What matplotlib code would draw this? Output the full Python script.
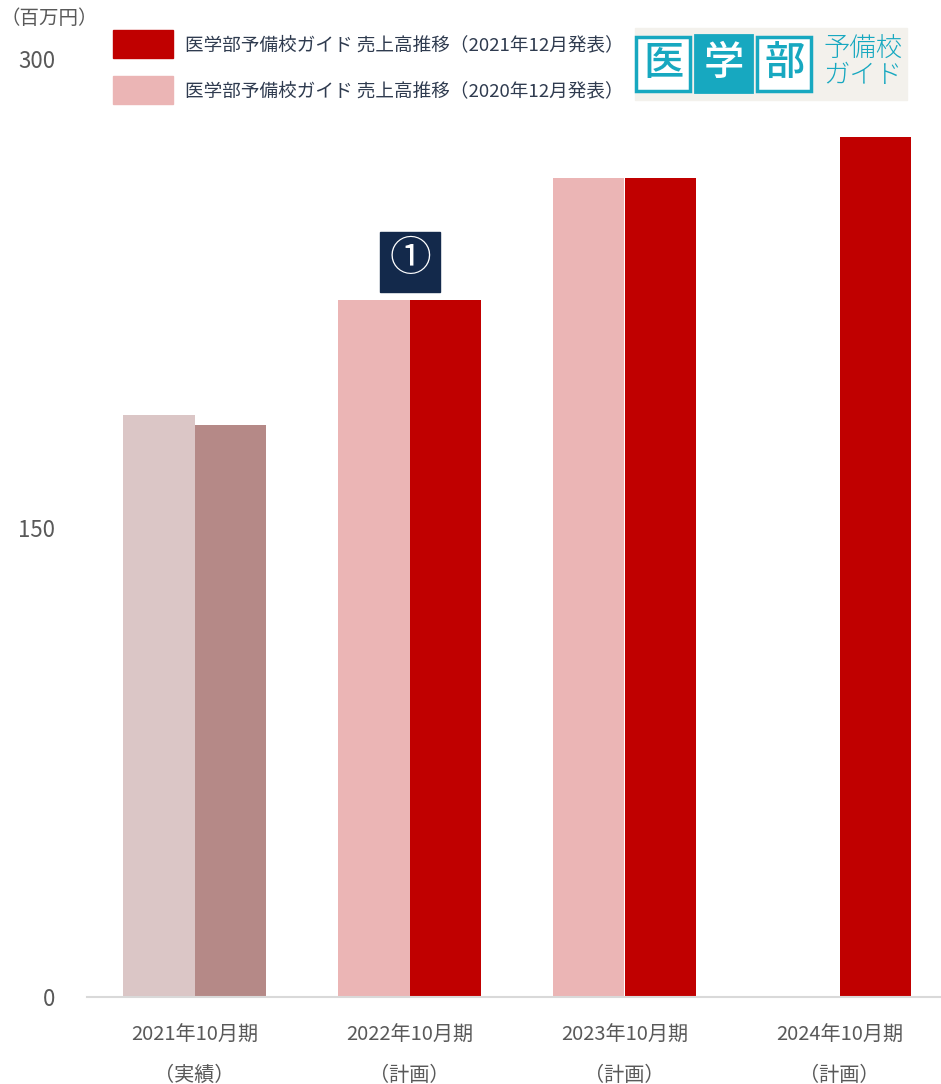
import numpy as np
import matplotlib.pyplot as plt
from matplotlib.patches import Patch, Rectangle

plt.rcParams['font.family'] = ['Noto Sans CJK JP', 'DejaVu Sans']

# data (百万円)
periods = ['2021年10月期', '2022年10月期', '2023年10月期', '2024年10月期']
notes = ['（実績）', '（計画）', '（計画）', '（計画）']
sales_2020 = [186, 223, 262]        # 2020年12月発表
sales_2021 = [183, 223, 262, 275]   # 2021年12月発表
colors_2020 = ['#DBC6C6', '#EBB5B5', '#EBB5B5']
colors_2021 = ['#B58987', '#C00000', '#C00000', '#C00000']
label_2021 = '医学部予備校ガイド 売上高推移（2021年12月発表）'
label_2020 = '医学部予備校ガイド 売上高推移（2020年12月発表）'

W, H = 941, 1084
fig = plt.figure(figsize=(W / 100, H / 100), dpi=100)
ax = fig.add_axes([87 / W, 1 - 997 / H, 1 - 87 / W, (997 - 59) / H])

w = 1 / 3
x = np.arange(len(periods))
ax.bar(x[:len(sales_2020)] - w / 2, sales_2020, width=w, color=colors_2020)
ax.bar(x + w / 2, sales_2021, width=w, color=colors_2021)

ax.set_xlim(-0.5, (W - 87) / 215 - 0.5)
ax.set_ylim(0, 300)
for s in ['top', 'right', 'left']:
    ax.spines[s].set_visible(False)
ax.spines['bottom'].set_color('#D9D9D9')
ax.spines['bottom'].set_linewidth(1.5)

ax.set_yticks([0, 150, 300])
ax.set_yticklabels(['0', '150', '300'], fontsize=16, color='#595959')
ax.tick_params(axis='y', length=0, pad=23)

ax.set_xticks(x)
ax.set_xticklabels([p + '\n' + n for p, n in zip(periods, notes)],
                   fontsize=14.5, color='#595959', linespacing=2.2)
ax.tick_params(axis='x', length=0, pad=20)

handles = [Patch(color='#C00000', label=label_2021),
           Patch(color='#EBB5B5', label=label_2020)]
fig.legend(handles=handles, loc='upper left',
           bbox_to_anchor=(113 / W, 1 - 30 / H), frameon=False,
           fontsize=13.4, labelcolor='#2F3B4F', handlelength=3.22,
           handleheight=1.95, handletextpad=0.65, labelspacing=0.95,
           borderpad=0, borderaxespad=0)

# overlay in pixel coordinates
ov = fig.add_axes([0, 0, 1, 1], facecolor='none')
ov.set_xlim(0, W)
ov.set_ylim(H, 0)
ov.axis('off')

ov.text(0, 18, '（百万円）', fontsize=14, color='#595959', va='center', ha='left')

# marker ①
ov.add_patch(Rectangle((380, 232), 60, 60, color='#13294B'))
ov.text(410, 260, '①', fontsize=30, color='white', ha='center', va='center')

# logo
teal = '#17A8C0'
ov.add_patch(Rectangle((635, 28), 272, 72, color='#F3F1EC'))
for i, ch in enumerate(['医', '学', '部']):
    x0 = 635 + i * 60.5
    if i == 1:
        ov.add_patch(Rectangle((x0, 35), 57, 57, facecolor=teal, edgecolor=teal, lw=2))
        c = 'white'
    else:
        ov.add_patch(Rectangle((x0 + 1.5, 36.5), 54, 54, facecolor='white', edgecolor=teal, lw=2.5))
        c = teal
    ov.text(x0 + 28.5, 64, ch, fontsize=29, fontweight='medium', color=c, ha='center', va='center')
ov.text(863, 49, '予備校', fontsize=19, fontweight='light', color=teal, ha='center', va='center')
ov.text(863, 75, 'ガイド', fontsize=19, fontweight='light', color=teal, ha='center', va='center')

fig.savefig('out.png', dpi=100)
